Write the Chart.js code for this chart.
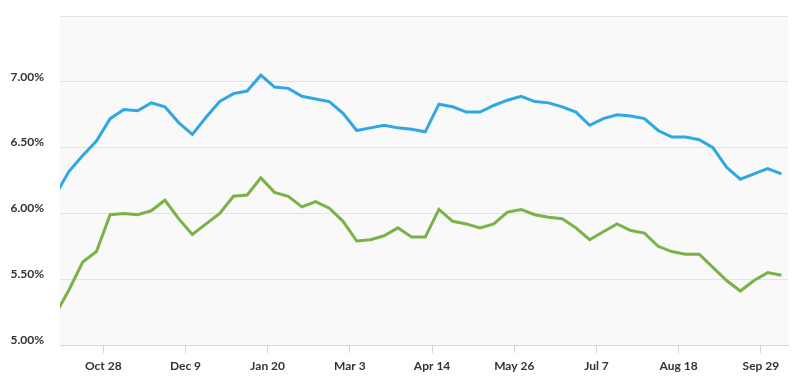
<!DOCTYPE html>
<html>
<head>
<meta charset="utf-8">
<title>Rates</title>
<script src="https://cdn.jsdelivr.net/npm/chart.js@4.4.1/dist/chart.umd.min.js"></script>
<style>
  html, body { margin: 0; padding: 0; background: #fff; }
  #wrap { width: 804px; height: 382px; position: relative; }
</style>
</head>
<body>
<div id="wrap"><canvas id="rateChart"></canvas></div>
<script>
// weekly readings, first one sits just off the left edge
const blueRates = [6.14, 6.32, 6.44, 6.55, 6.72, 6.79, 6.78, 6.84, 6.81, 6.69,
  6.60, 6.73, 6.85, 6.91, 6.93, 7.05, 6.96, 6.95, 6.89, 6.87,
  6.85, 6.76, 6.63, 6.65, 6.67, 6.65, 6.64, 6.62, 6.83, 6.81,
  6.77, 6.77, 6.82, 6.86, 6.89, 6.85, 6.84, 6.81, 6.77, 6.67,
  6.72, 6.75, 6.74, 6.72, 6.63, 6.58, 6.58, 6.56, 6.50, 6.35,
  6.26, 6.30, 6.34, 6.30];
const greenRates = [5.23, 5.42, 5.63, 5.71, 5.99, 6.00, 5.99, 6.02, 6.10, 5.96,
  5.84, 5.92, 6.00, 6.13, 6.14, 6.27, 6.16, 6.13, 6.05, 6.09,
  6.04, 5.94, 5.79, 5.80, 5.83, 5.89, 5.82, 5.82, 6.03, 5.94,
  5.92, 5.89, 5.92, 6.01, 6.03, 5.99, 5.97, 5.96, 5.89, 5.80,
  5.86, 5.92, 5.87, 5.85, 5.75, 5.71, 5.69, 5.69, 5.59, 5.49,
  5.41, 5.49, 5.55, 5.53];
const tickLabels = ['Oct 28', 'Dec 9', 'Jan 20', 'Mar 3', 'Apr 14', 'May 26', 'Jul 7', 'Aug 18', 'Sep 29'];
const tickWeeks = [2.5, 8.5, 14.5, 20.5, 26.5, 32.5, 38.5, 44.5, 50.5];
const yTicks = [5.0, 5.5, 6.0, 6.5, 7.0, 7.5];

function toPoints(arr) {
  return arr.map(function(v, i) { return { x: i - 1, y: v }; });
}

// grey plot background
const plotBg = {
  id: 'plotBg',
  beforeDraw: function(chart) {
    const a = chart.chartArea;
    const ctx = chart.ctx;
    ctx.save();
    ctx.fillStyle = '#f9f9f9';
    ctx.fillRect(a.left, a.top, a.right - a.left, a.bottom - a.top);
    ctx.restore();
  }
};

const labelFont = { family: 'Lato', weight: 'bold', size: 12 };

const config = {
  type: 'line',
  data: {
    datasets: [
      {
        label: 'blue',
        data: toPoints(blueRates),
        borderColor: '#2ea8e2',
        borderWidth: 3,
        pointRadius: 0,
        tension: 0,
        clip: 0
      },
      {
        label: 'green',
        data: toPoints(greenRates),
        borderColor: '#7ab246',
        borderWidth: 3,
        pointRadius: 0,
        tension: 0,
        clip: 0
      }
    ]
  },
  options: {
    responsive: true,
    maintainAspectRatio: false,
    animation: false,
    layout: { padding: { top: 16, right: 16, left: 0, bottom: 0 } },
    plugins: {
      legend: { display: false },
      tooltip: { enabled: false }
    },
    scales: {
      x: {
        type: 'linear',
        min: -0.66,
        max: 52.48,
        afterBuildTicks: function(axis) {
          axis.ticks = tickWeeks.map(function(w) { return { value: w }; });
        },
        afterFit: function(axis) {
          axis.height = 37;
          axis.paddingLeft = 0;
          axis.paddingRight = 0;
        },
        grid: {
          drawOnChartArea: false,
          drawTicks: true,
          tickLength: 8,
          color: '#c8d7ea'
        },
        border: { color: '#c8d7ea', width: 1 },
        ticks: {
          autoSkip: false,
          maxRotation: 0,
          padding: 6,
          color: '#333',
          font: labelFont,
          callback: function(value) {
            const k = tickWeeks.indexOf(value);
            return k >= 0 ? tickLabels[k] : '';
          }
        }
      },
      y: {
        min: 5,
        max: 7.5,
        afterBuildTicks: function(axis) {
          axis.ticks = yTicks.map(function(v) { return { value: v }; });
        },
        afterFit: function(axis) {
          axis.width = 60;
          axis.paddingTop = 0;
          axis.paddingBottom = 0;
        },
        grid: { color: '#e3e3e3', drawTicks: false },
        border: { display: false },
        ticks: {
          padding: 16,
          labelOffset: -5,
          color: '#333',
          font: labelFont,
          callback: function(value) {
            if (value >= 7.5) return '';
            return value.toFixed(2) + '%';
          }
        }
      }
    }
  },
  plugins: [plotBg]
};

const rateChart = new Chart(document.getElementById('rateChart'), config);
</script>
</body>
</html>
